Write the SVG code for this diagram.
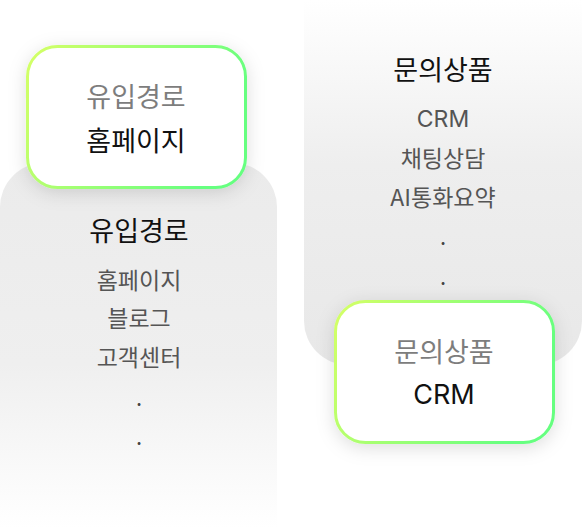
<svg xmlns="http://www.w3.org/2000/svg" width="582" height="528" viewBox="0 0 582 528">
<defs>
<linearGradient id="gLeft" x1="0" y1="0" x2="0" y2="1">
<stop offset="0" stop-color="#ebebeb"/>
<stop offset="0.55" stop-color="#efefef"/>
<stop offset="1" stop-color="#ffffff"/>
</linearGradient>
<linearGradient id="gRight" x1="0" y1="0" x2="0" y2="1">
<stop offset="0" stop-color="#ffffff"/>
<stop offset="0.45" stop-color="#eeeeee"/>
<stop offset="1" stop-color="#e8e8e8"/>
</linearGradient>
<linearGradient id="gStroke" x1="0" y1="0" x2="1" y2="0.3">
<stop offset="0" stop-color="#d6ff66"/>
<stop offset="1" stop-color="#66ff80"/>
</linearGradient>
<filter id="shadow" x="-30%" y="-30%" width="160%" height="160%">
<feDropShadow dx="0" dy="4" stdDeviation="9" flood-color="#000" flood-opacity="0.13"/>
</filter>
</defs>
<style>
text{font-family:"Noto Sans CJK KR","Noto Sans",sans-serif;text-anchor:middle;dominant-baseline:central}
.en{font-family:Inter,"Noto Sans CJK KR",sans-serif}
.title{font-size:27px;font-weight:400;fill:#111}
.item{font-size:23px;fill:#555}
.clabel{font-size:27px;fill:#7d7d7d}
.cval{font-size:27px;font-weight:400;fill:#111}
.dot{font-size:22px;fill:#444;dominant-baseline:alphabetic}
.card{fill:#fff;stroke:url(#gStroke);stroke-width:3}
</style>
<g id="panel-left">
<path d="M0 207 A44 44 0 0 1 44 163 H233 A44 44 0 0 1 277 207 V528 H0 Z" fill="url(#gLeft)"/>
<text class="title" x="139" y="229">유입경로</text>
<text class="item" x="139" y="279">홈페이지</text>
<text class="item" x="139" y="317">블로그</text>
<text class="item" x="139" y="356">고객센터</text>
<text class="dot" x="139" y="406">.</text>
<text class="dot" x="139" y="445">.</text>
</g>
<g id="panel-right">
<path d="M304 0 H582 V321 A44 44 0 0 1 538 365 H348 A44 44 0 0 1 304 321 Z" fill="url(#gRight)"/>
<text class="title" x="443" y="68">문의상품</text>
<text class="item en" x="443" y="119">CRM</text>
<text class="item" x="443" y="157">채팅상담</text>
<text class="item" x="443" y="196">AI통화요약</text>
<text class="dot" x="443" y="245">.</text>
<text class="dot" x="443" y="285">.</text>
</g>
<g id="connectors"></g>
<g id="card-inflow">
<rect class="card" x="27.5" y="46.5" width="218" height="141" rx="30" filter="url(#shadow)"/>
<text class="clabel" x="136" y="95">유입경로</text>
<text class="cval" x="136" y="139">홈페이지</text>
</g>
<g id="card-product">
<rect class="card" x="335.5" y="301.5" width="218" height="141" rx="30" filter="url(#shadow)"/>
<text class="clabel" x="444" y="350">문의상품</text>
<text class="cval en" x="444" y="394">CRM</text>
</g>
</svg>
